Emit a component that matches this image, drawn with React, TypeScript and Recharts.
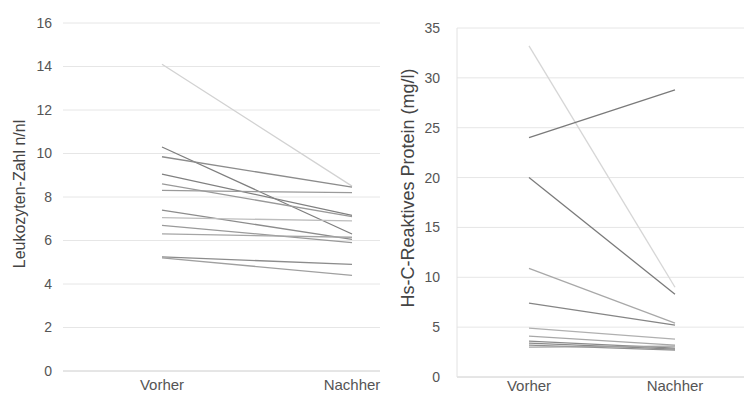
import React from "react";
import { LineChart, Line, XAxis, YAxis, CartesianGrid } from "recharts";

const categories = ["Vorher", "Nachher"];

const leukoVorher = [14.1, 10.3, 9.85, 9.05, 8.6, 8.3, 7.4, 7.05, 6.7, 6.3, 5.25, 5.2];
const leukoNachher = [8.5, 6.3, 8.45, 7.15, 7.1, 8.2, 6.05, 6.9, 5.9, 6.15, 4.9, 4.4];
const leukoColors = ["#d2d2d2", "#7e7e7e", "#8c8c8c", "#808080", "#999", "#9a9a9a", "#8c8c8c", "#bdbdbd", "#9a9a9a", "#a5a5a5", "#8c8c8c", "#a0a0a0"];
const leukoTicks = [0, 2, 4, 6, 8, 10, 12, 14, 16];

const crpVorher = [33.2, 24.0, 20.0, 10.9, 7.4, 4.9, 4.1, 3.6, 3.4, 3.2, 3.0];
const crpNachher = [9.0, 28.8, 8.3, 5.4, 5.2, 3.8, 3.2, 2.9, 2.8, 2.7, 3.1];
const crpColors = ["#d6d6d6", "#7a7a7a", "#7a7a7a", "#a8a8a8", "#858585", "#b0b0b0", "#a8a8a8", "#8a8a8a", "#8a8a8a", "#909090", "#a0a0a0"];
const crpTicks = [0, 5, 10, 15, 20, 25, 30, 35];

function buildRows(before: number[], after: number[]) {
  return categories.map((c, ci) => {
    const row: Record<string, any> = { cat: c };
    const src = ci === 0 ? before : after;
    src.forEach((v, i) => {
      row["s" + i] = v;
    });
    return row;
  });
}

const leukoRows = buildRows(leukoVorher, leukoNachher);
const crpRows = buildRows(crpVorher, crpNachher);

const FONT = "'Liberation Sans', Arial, sans-serif";
const yTickStyle = { fill: "#555", fontSize: 14, fontFamily: FONT };
const xTickStyle = { fill: "#555", fontSize: 15, fontFamily: FONT };

export default function App() {
  return (
    <div style={{ position: "absolute", left: 0, top: 0, width: 744, height: 395, background: "#fff", overflow: "hidden", fontFamily: FONT }}>
      <div style={{ position: "absolute", left: 0, top: 0 }}>
        <LineChart width={400} height={395} data={leukoRows} margin={{ top: 23, right: 20, bottom: 4, left: 13 }}>
          <CartesianGrid horizontal vertical={false} stroke="#e6e6e6" />
          <XAxis
            dataKey="cat"
            padding={{ left: 99, right: 28 }}
            tick={xTickStyle}
            tickLine={false}
            axisLine={{ stroke: "#d8d8d8" }}
            tickSize={0}
            tickMargin={8}
            height={20}
            interval={0}
          />
          <YAxis
            domain={[0, 16]}
            ticks={leukoTicks}
            tick={yTickStyle}
            tickLine={false}
            axisLine={false}
            tickSize={0}
            tickMargin={11}
            width={50}
            interval={0}
          />
          {leukoVorher.map((_, i) => (
            <Line
              key={i}
              dataKey={"s" + i}
              stroke={leukoColors[i]}
              strokeWidth={1.3}
              dot={false}
              isAnimationActive={false}
            />
          ))}
        </LineChart>
      </div>
      <div style={{ position: "absolute", left: 380, top: 0 }}>
        <LineChart width={364} height={395} data={crpRows} margin={{ top: 28, right: 0, bottom: 0, left: 27 }}>
          <CartesianGrid horizontal vertical={false} stroke="#e6e6e6" />
          <XAxis
            dataKey="cat"
            padding={{ left: 72, right: 69 }}
            tick={xTickStyle}
            tickLine={false}
            axisLine={{ stroke: "#d8d8d8" }}
            tickSize={0}
            tickMargin={3}
            height={18}
            interval={0}
          />
          <YAxis
            domain={[0, 35]}
            ticks={crpTicks}
            tick={yTickStyle}
            tickLine={false}
            axisLine={{ stroke: "#e2e2e2" }}
            tickSize={0}
            tickMargin={17}
            width={50}
            interval={0}
          />
          {crpVorher.map((_, i) => (
            <Line
              key={i}
              dataKey={"s" + i}
              stroke={crpColors[i]}
              strokeWidth={1.3}
              dot={false}
              isAnimationActive={false}
            />
          ))}
        </LineChart>
      </div>
      <div
        style={{
          position: "absolute",
          left: 20,
          top: 194,
          transform: "translate(-50%, -50%) rotate(-90deg)",
          whiteSpace: "nowrap",
          fontSize: 16,
          color: "#444",
        }}
      >
        Leukozyten-Zahl n/nl
      </div>
      <div
        style={{
          position: "absolute",
          left: 408,
          top: 188,
          transform: "translate(-50%, -50%) rotate(-90deg)",
          whiteSpace: "nowrap",
          fontSize: 18,
          color: "#444",
        }}
      >
        Hs-C-Reaktives Protein (mg/l)
      </div>
    </div>
  );
}
